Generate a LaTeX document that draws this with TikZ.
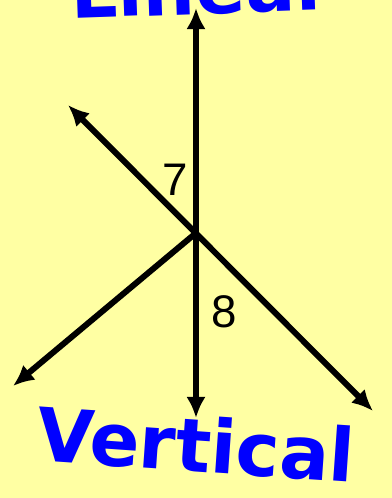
\documentclass[tikz,border=0pt]{standalone}
\usepackage{fontspec}
\usepackage{xcolor}
\usepackage{tikz}
\usetikzlibrary{arrows.meta}
\newfontfamily\labelfont{Liberation Sans}
\newfontfamily\handfont{DejaVu Sans}
\definecolor{notepad}{HTML}{FFFFA3}
\definecolor{marker}{HTML}{0000FF}
\tikzset{
  rayline/.style={line width=3.4pt, color=black},
  raytip/.style={-{Latex[length=12pt,width=11pt]}},
  bothtips/.style={{Latex[length=12pt,width=11pt]}-{Latex[length=12pt,width=11pt]}},
  anglelabel/.style={font=\labelfont\fontsize{26}{26}\selectfont, inner sep=0pt},
  handword/.style={font=\handfont\bfseries\fontsize{42}{42}\selectfont,
    text=marker, inner sep=0pt}
}

\begin{document}
\begin{tikzpicture}[x=0.02cm, y=-0.02cm]
  \useasboundingbox (0,0) rectangle (392,498);
  \fill[notepad] (0,0) rectangle (392,498);
  \clip (0,0) rectangle (392,498);
  % end points of the rays
  \coordinate (o) at (196,233);
  \coordinate (top) at (196,8);
  \coordinate (bot) at (196,418);
  \coordinate (ul) at (68,105);
  \coordinate (lr) at (373,411);
  \coordinate (ll) at (13,386);
  \draw[rayline, bothtips] (top) -- (bot);
  \draw[rayline, bothtips] (ul) -- (lr);
  \draw[rayline, raytip] (o) -- (ll);
  \node[anglelabel] (seven) at (175,180) {7};
  \node[anglelabel] (eight) at (224,312) {8};
  \node[handword, anchor=base, rotate=2] (linear) at (202,14) {Linear};
  \node[handword, rotate=-4] (vertical) at (196,444) {Vertical};
\end{tikzpicture}
\end{document}
